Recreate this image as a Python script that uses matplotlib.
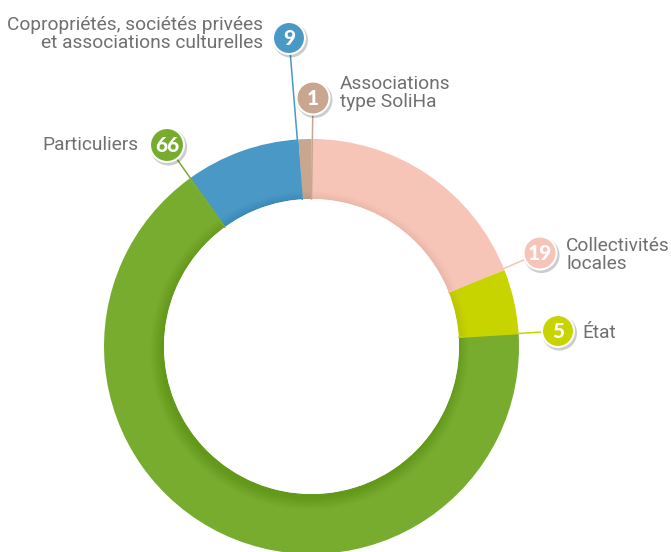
import numpy as np
import matplotlib.pyplot as plt
from matplotlib.patches import Circle

# données (en %), dans le sens horaire à partir de midi
categories = ['Collectivités\nlocales', 'État', 'Particuliers',
              'Copropriétés, sociétés privées\net associations culturelles',
              'Associations\ntype SoliHa']
values = [19, 5, 66, 9, 1]
colors = ['#F7C4B8', '#C8D400', '#78AC2E', '#4A98C6', '#C9A68F']

W, H = 671, 552
fig = plt.figure(figsize=(6.71, 5.52), dpi=100)
ax = fig.add_axes([0, 0, 1, 1])

cx, cy = 311.5, H - 346.5
R, r_in = 207.5, 147.5
ax.pie(values, colors=colors, startangle=90, counterclock=False, radius=R,
       center=(cx, cy), frame=True, wedgeprops=dict(width=R - r_in, linewidth=0))
ax.set_xlim(0, W)
ax.set_ylim(0, H)
ax.set_aspect('equal')
ax.axis('off')

# ombre intérieure (légère)
n = 20
for i in range(n):
    ax.add_patch(Circle((cx - 2, cy - 4), r_in + 12 * (1 - i / n), color='k',
                        alpha=0.0055, lw=0, zorder=3))
ax.add_patch(Circle((cx, cy), r_in, color='white', lw=0, zorder=4))

# étiquettes : (pastille x, pastille y, rayon, texte x, texte y, alignement)
badges = [(540, 253, 16.5, 566, 255, 'left'),
          (558, 331, 16, 582, 333, 'left'),
          (167, 145, 17, 138, 145, 'right'),
          (289, 38, 16, 263, 34, 'right'),
          (313, 98, 16.5, 340, 93, 'left')]

text_font = ['Roboto', 'DejaVu Sans']
ends = 90 - 360 * np.cumsum(values) / sum(values)
for val, lab, col, ang, (bx, by, br, tx, ty, ha) in zip(values, categories, colors, ends, badges):
    by, ty = H - by, H - ty
    a = np.radians(ang)
    px, py = cx + r_in * np.cos(a), cy + r_in * np.sin(a)
    ax.plot([bx, px], [by, py], color=col, lw=1.1, zorder=5)
    ax.add_patch(Circle((bx + 1.5, by - 2), br + 1.5, color='k', alpha=0.2, lw=0, zorder=6))
    ax.add_patch(Circle((bx, by), br, facecolor=col, edgecolor='white', lw=1.5, zorder=7))
    ax.text(bx, by - 0.5, str(val), color='white', fontsize=15, fontweight='black',
            family='Lato', ha='center', va='center', zorder=8)
    ax.text(tx, ty, lab, color='#707070', fontsize=13.8, family=text_font,
            ha=ha, va='center', linespacing=1.05, multialignment=ha, zorder=8)

fig.savefig('out.png', dpi=100)
